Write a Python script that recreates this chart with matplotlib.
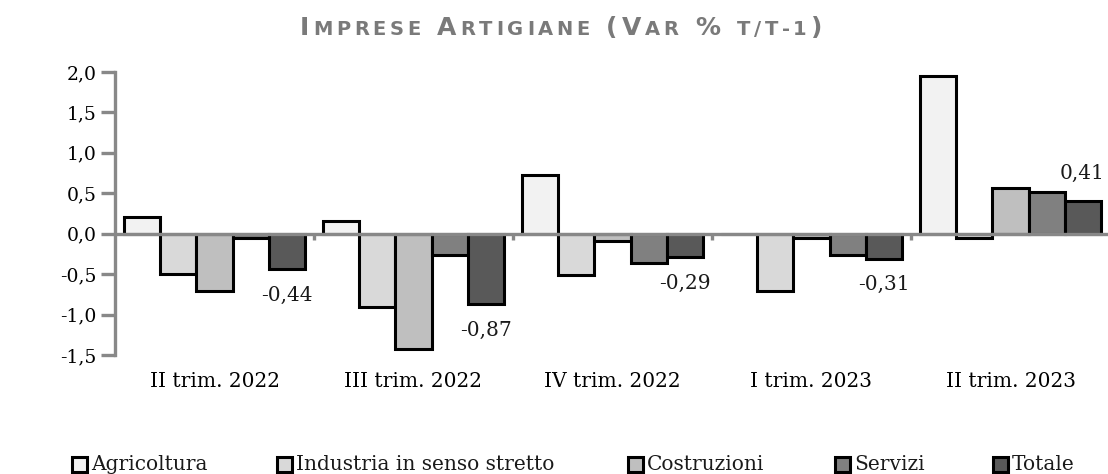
import matplotlib
matplotlib.use('Agg')
import matplotlib.pyplot as plt
import numpy as np
from matplotlib.patches import Rectangle

# ---- data ----
periods = ['II trim. 2022', 'III trim. 2022', 'IV trim. 2022', 'I trim. 2023', 'II trim. 2023']
series = ['Agricoltura', 'Industria in senso stretto', 'Costruzioni', 'Servizi', 'Totale']
agricoltura = [0.21, 0.16, 0.72, 0.00, 1.95]
industria = [-0.50, -0.91, -0.51, -0.71, -0.05]
costruzioni = [-0.71, -1.42, -0.09, -0.05, 0.57]
servizi = [-0.05, -0.26, -0.36, -0.26, 0.52]
totale = [-0.44, -0.87, -0.29, -0.31, 0.41]
totale_labels = ['-0,44', '-0,87', '-0,29', '-0,31', '0,41']
yticks = [2.0, 1.5, 1.0, 0.5, 0.0, -0.5, -1.0, -1.5]
ytick_labels = ['2,0', '1,5', '1,0', '0,5', '0,0', '-0,5', '-1,0', '-1,5']
title_pieces = [('I', 'big'), ('MPRESE', 'small'), (' ', 'big'), ('A', 'big'), ('RTIGIANE', 'small'),
                (' ', 'big'), ('(', 'big'), ('V', 'big'), ('AR', 'small'), (' ', 'big'), ('%', 'big'),
                (' ', 'big'), ('T/T-1', 'small'), (')', 'big')]

colors = ['#f2f2f2', '#d9d9d9', '#bfbfbf', '#808080', '#595959']
grey = '#888888'
serif = 'DejaVu Serif'

W, H = 1108, 474
fig = plt.figure(figsize=(W / 100, H / 100), dpi=100)
ax = fig.add_axes([115 / W, 1 - 355 / H, 995 / W, 283 / H])

values = [agricoltura, industria, costruzioni, servizi, totale]
x = np.arange(len(periods))
bw = 0.181
for i, vals in enumerate(values):
    ax.bar(x + (i - 2) * bw, vals, bw, color=colors[i], edgecolor='black',
           linewidth=2.2, zorder=2)

ax.axhline(0, color=grey, lw=2.4, zorder=3)
bounds = np.arange(len(periods) - 1) + 0.5
ax.plot(bounds, np.zeros(len(bounds)), ls='none', marker=3, ms=4, mew=2.4,
        color=grey, zorder=3)

for xi, v, lab in zip(x, totale, totale_labels):
    off = 27 if v > 0 else -26
    ax.annotate(lab, (xi + 2 * bw, v), xytext=(0, off), textcoords='offset pixels',
                ha='center', va='center', fontsize=14.5, family=serif, color='#1a1a1a')

ax.set_xlim(-0.5, len(periods) - 0.5)
ax.set_ylim(-1.5, 2.0)
ax.set_yticks(yticks)
ax.set_yticklabels(ytick_labels, family=serif, fontsize=13.5)
ax.set_xticks(x)
ax.set_xticklabels(periods, family=serif, fontsize=14.5)
ax.tick_params(axis='y', direction='out', length=10, width=2.4, color=grey, pad=3)
ax.tick_params(axis='x', length=0, pad=12)
for s in ['top', 'right', 'bottom']:
    ax.spines[s].set_visible(False)
ax.spines['left'].set_color(grey)
ax.spines['left'].set_linewidth(2.4)
ax.patch.set_visible(False)

renderer = fig.canvas.get_renderer()

# ---- title in small caps ----
sizes = {'big': 18, 'small': 14}
tcol = '#7a7a7a'
space_w = 9
target_left, target_right = 300, 822
base_y = 1 - 35 / H
seq = []
for s, kind in title_pieces:
    for ch in s:
        if ch == ' ':
            seq.append(None)
            continue
        t = fig.text(0, base_y, ch, fontsize=sizes[kind], color=tcol, va='baseline',
                     ha='left', family='DejaVu Sans', fontweight='semibold')
        w = t.get_window_extent(renderer).width
        seq.append((t, w))
glyph_total = sum(e[1] for e in seq if e is not None) + space_w * sum(1 for e in seq if e is None)
track = (target_right - target_left - glyph_total) / (len(seq) - 1)
cur = target_left
for e in seq:
    if e is None:
        cur += space_w + track
        continue
    t, w = e
    t.set_x(cur / W)
    cur += w + track

# ---- legend ----
legend_x = [72, 277, 628, 835, 993]
ly = 464
for name, c, lx in zip(series, colors, legend_x):
    fig.add_artist(Rectangle((lx / W, (H - ly - 7.5) / H), 15 / W, 15 / H,
                             transform=fig.transFigure, facecolor=c,
                             edgecolor='black', lw=2.2))
    fig.text((lx + 19) / W, 1 - ly / H, name, fontsize=14.5, family=serif,
             va='center', ha='left', color='#1a1a1a')

fig.savefig('out.png', dpi=100)
